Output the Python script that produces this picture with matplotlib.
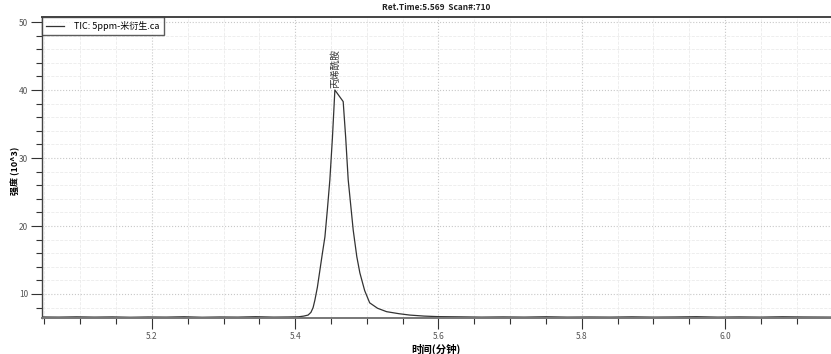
import matplotlib.pyplot as plt
from matplotlib.ticker import MultipleLocator

plt.rcParams['font.family'] = ['Noto Sans CJK SC', 'DejaVu Sans']

# retention time (min) and intensity (10^3)
rt = [5.046, 5.07, 5.095, 5.12, 5.145, 5.17, 5.195, 5.22, 5.245, 5.27,
      5.295, 5.32, 5.345, 5.37, 5.39, 5.405, 5.412, 5.418, 5.422, 5.425,
      5.4275, 5.431, 5.4345, 5.438, 5.4415, 5.445, 5.4484, 5.452, 5.4554,
      5.467, 5.4705, 5.474, 5.481, 5.486, 5.4903, 5.497, 5.504, 5.515,
      5.5276, 5.545, 5.56, 5.58, 5.60, 5.63, 5.66, 5.69, 5.72, 5.75, 5.78,
      5.81, 5.84, 5.87, 5.90, 5.93, 5.96, 5.99, 6.02, 6.05, 6.08, 6.11,
      6.148]
intensity = [6.62, 6.6, 6.64, 6.6, 6.63, 6.58, 6.62, 6.6, 6.65, 6.58,
             6.62, 6.6, 6.66, 6.6, 6.62, 6.65, 6.75, 6.9, 7.3, 8.0,
             9.1, 11.0, 13.5, 16.0, 18.4, 22.5, 26.8, 33.0, 40.0,
             38.3, 33.0, 26.8, 19.4, 15.5, 13.1, 10.5, 8.7, 7.9,
             7.4, 7.1, 6.9, 6.75, 6.67, 6.64, 6.6, 6.63, 6.6, 6.65, 6.6,
             6.62, 6.6, 6.64, 6.6, 6.62, 6.66, 6.6, 6.63, 6.6, 6.65, 6.62,
             6.6]

peak_rt = 5.4554
peak_val = 40.0
peak_name = '丙烯酰胺'
trace_label = 'TIC: 5ppm-米衍生.ca'
title = 'Ret.Time:5.569  Scan#:710'

fig = plt.figure(figsize=(8.31, 3.54), dpi=100)
ax = fig.add_axes([0.0505, 0.1017, 0.9495, 0.8503])

ax.plot(rt, intensity, color='#333333', lw=0.9, label=trace_label)
ax.text(peak_rt, peak_val + 0.3, peak_name, rotation=90, ha='center', va='bottom',
        fontsize=7, color='#333333')

ax.set_xlim(5.0465, 6.148)
ax.set_ylim(6.47, 50.74)
ax.xaxis.set_major_locator(MultipleLocator(0.2))
ax.xaxis.set_minor_locator(MultipleLocator(0.05))
ax.yaxis.set_major_locator(MultipleLocator(10))
ax.yaxis.set_minor_locator(MultipleLocator(2))
ax.set_yticks([10, 20, 30, 40, 50])

ax.grid(which='major', color='#c8c8c8', ls=':', lw=0.8)
ax.grid(which='minor', color='#ebebeb', ls='--', lw=0.6)
ax.set_axisbelow(True)

ax.tick_params(which='major', length=8, width=0.8, color='#333333',
               labelsize=6, labelcolor='#555555', pad=2)
ax.tick_params(which='minor', length=4, width=0.8, color='#333333')

for side in ['left', 'bottom', 'top']:
    ax.spines[side].set_color('#444444')
ax.spines['left'].set_linewidth(1.0)
ax.spines['bottom'].set_linewidth(1.4)
ax.spines['bottom'].set_color('#777777')
ax.spines['top'].set_linewidth(1.4)
ax.spines['right'].set_visible(False)

ax.set_xlabel('时间(分钟)', fontsize=7.5, fontweight='bold', labelpad=2)
ax.set_ylabel('强度 (10^3)', fontsize=6.5, fontweight='bold')
ax.yaxis.set_label_coords(-0.028, 0.49)
ax.set_title(title, fontsize=6, fontweight='bold', pad=5, color='#222222')

leg = ax.legend(loc='upper left', fontsize=6.5, frameon=True, fancybox=False,
                borderaxespad=0, borderpad=0.45, handlelength=2.0, handletextpad=1.1)
leg.get_frame().set_edgecolor('#333333')
leg.get_frame().set_linewidth(1.0)

fig.savefig('out.png', dpi=100)
